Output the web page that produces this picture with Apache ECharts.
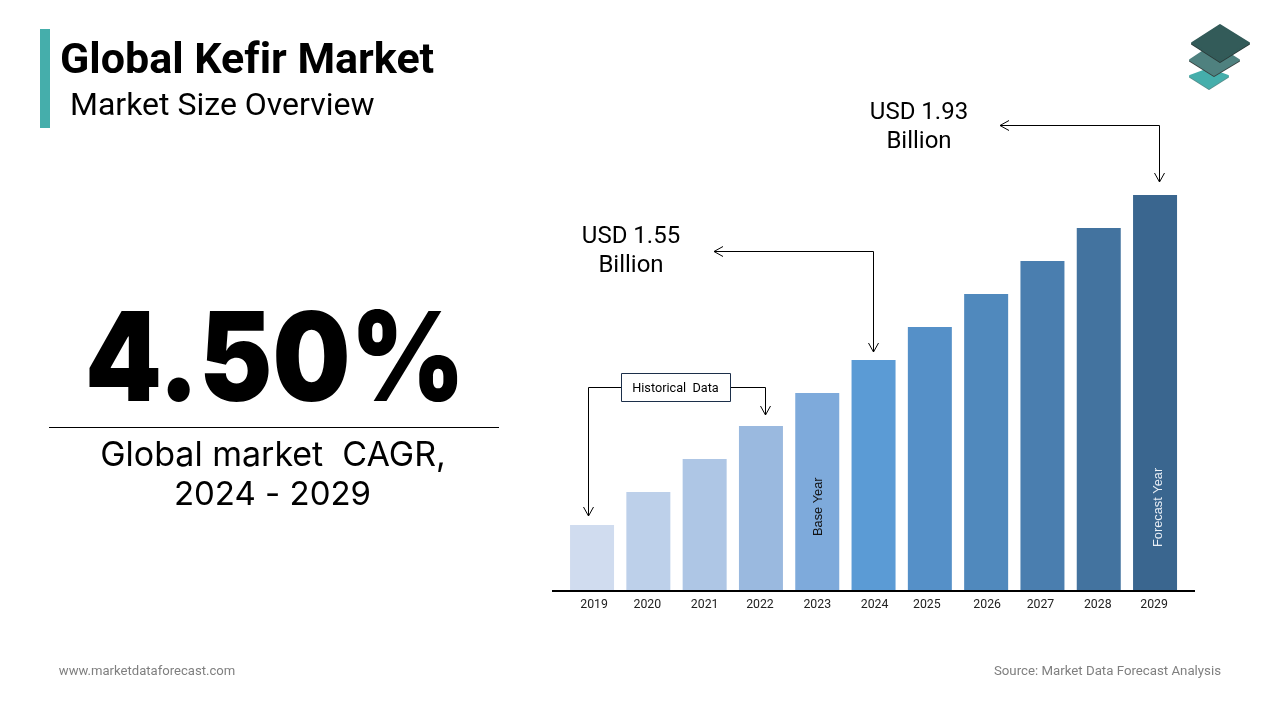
<!DOCTYPE html>
<html lang="en">
<head>
    <meta charset="UTF-8">
    <title>Global Kefir Market</title>
    <style>
        html, body { margin: 0; padding: 0; background: #fff; }
        #chart { width: 1280px; height: 720px; }
    </style>
</head>
<body>
<div id="chart"></div>
<script src="https://cdn.jsdelivr.net/npm/echarts@6/dist/echarts.min.js"></script>
<script type="text/javascript">
    // bar heights, the chart has no printed scale
    var years = ['2019', '2020', '2021', '2022', '2023', '2024', '2025', '2026', '2027', '2028', '2029'];
    var barValues = [65, 98, 131, 164, 197, 230, 263, 296, 329, 362, 395];
    var barColors = ['#d0dcef', '#bdd0ea', '#aec6e5', '#9ab9df', '#7eaadb', '#5b9bd5', '#5590c8', '#5089bd', '#4a7eaf', '#43739f', '#3a668f'];
    var barNotes = ['', '', '', '', 'Base Year', '', '', '', '', '', 'Forecast Year'];
    var noteColors = ['', '', '', '', '#111111', '', '', '', '', '', '#e8eef5'];
    var noteDistance = [0, 0, 0, 0, 54, 0, 0, 0, 0, 0, 43];
    var noteShift = [0, 0, 0, 0, 1, 0, 0, 0, 0, 0, 3];
    // tick labels sit a little off the bar centres in the original
    var tickShift = [2, -1, 0, -1, 0, 1, -3, 1, -2, -1, -1];

    var chart = echarts.init(document.getElementById('chart'));

    function txt(x, y, text, size, opts) {
        opts = opts || {};
        return {
            type: 'text',
            x: x,
            y: y,
            scaleX: opts.scaleX || 1,
            silent: true,
            style: {
                text: text,
                fontFamily: opts.font || 'Roboto',
                fontSize: size,
                fontWeight: opts.weight || 400,
                fill: opts.color || '#000',
                align: opts.align || 'center',
                verticalAlign: 'middle'
            }
        };
    }

    // elbow line with an open arrow head at the last point
    function arrowLine(points) {
        var a = points[points.length - 2];
        var b = points[points.length - 1];
        var dx = a[0] === b[0] ? 0 : (b[0] > a[0] ? 1 : -1);
        var dy = a[1] === b[1] ? 0 : (b[1] > a[1] ? 1 : -1);
        var head = [
            [b[0] - dx * 9 + dy * 5, b[1] - dy * 9 + dx * 5],
            [b[0], b[1]],
            [b[0] - dx * 9 - dy * 5, b[1] - dy * 9 - dx * 5]
        ];
        var style = { stroke: '#000', lineWidth: 1, fill: null };
        return [
            { type: 'polyline', silent: true, shape: { points: points }, style: style },
            { type: 'polyline', silent: true, shape: { points: head }, style: style }
        ];
    }

    function tile(points, color, edge) {
        var low = points.map(function (p) { return [p[0], p[1] + 1]; });
        return [
            { type: 'polygon', silent: true, shape: { points: low }, style: { fill: edge, stroke: edge, lineWidth: 2, lineJoin: 'round' } },
            { type: 'polygon', silent: true, shape: { points: points }, style: { fill: color, stroke: color, lineWidth: 2, lineJoin: 'round' } }
        ];
    }

    var shapes = [
        { type: 'rect', silent: true, shape: { x: 40, y: 29, width: 10, height: 99 }, style: { fill: '#45aeab' } },
        txt(60, 62, 'Global Kef\u200cir Market', 43, { align: 'left', weight: 700 }),
        txt(70, 107, 'Market Size Overview', 32, { align: 'left' }),
        txt(275, 364, '4.50%', 124, { font: 'Inter', weight: 900, scaleX: 0.885 }),
        { type: 'line', silent: true, shape: { x1: 49, y1: 427.5, x2: 499, y2: 427.5 }, style: { stroke: '#000', lineWidth: 1 } },
        txt(273, 456, 'Global market  CAGR,', 34, { font: 'Inter' }),
        txt(272.5, 495, '2024 - 2029', 33, { font: 'Inter' }),
        txt(919, 113, 'USD 1.93', 24),
        txt(919, 142, 'Billion', 24),
        txt(631, 237, 'USD 1.55', 24),
        txt(631, 266, 'Billion', 24),
        { type: 'rect', silent: true, shape: { x: 621.5, y: 373.5, width: 109, height: 28 }, style: { fill: '#fff', stroke: '#1c2f4a', lineWidth: 1 } },
        txt(675.5, 389, 'Historical  Data', 12.7),
        { type: 'line', silent: true, shape: { x1: 552, y1: 591, x2: 1195, y2: 591 }, style: { stroke: '#000', lineWidth: 2 } },
        txt(147, 672, 'www.marketdataforecast.com', 13.1, { color: '#7f7f7f' }),
        txt(1221, 672, 'Source: Market Data Forecast Analysis', 13.25, { color: '#7f7f7f', align: 'right' })
    ];
    shapes = shapes
        .concat(arrowLine([[1159.5, 125.5], [1000, 125.5]]))
        .concat(arrowLine([[1159.5, 125.5], [1159.5, 182]]))
        .concat(arrowLine([[873.5, 251.5], [714, 251.5]]))
        .concat(arrowLine([[873.5, 251.5], [873.5, 352]]))
        .concat(arrowLine([[621, 387.5], [588.5, 387.5], [588.5, 516]]))
        .concat(arrowLine([[731, 387.5], [765.5, 387.5], [765.5, 415]]))
        .concat(tile([[1209, 69], [1228, 76], [1209, 88], [1190, 76]], '#45aeab', '#5a8f8d'))
        .concat(tile([[1214, 44], [1239, 60], [1214, 75], [1190, 60]], '#4f817f', '#37413f'))
        .concat(tile([[1220, 25], [1249, 43], [1220, 61], [1192, 43]], '#335b59', '#2a3a38'));

    var option = {
        animation: false,
        backgroundColor: '#fff',
        grid: { left: 563.9, right: 96.8, top: 190, bottom: 130 },
        xAxis: {
            type: 'category',
            data: years.map(function (y, i) {
                // padding on one side moves a centred label by half of it
                var pad = Math.abs(tickShift[i]) * 2;
                return {
                    value: y,
                    textStyle: { padding: tickShift[i] > 0 ? [0, 0, 0, pad] : [0, pad, 0, 0] }
                };
            }),
            axisLine: { show: false },
            axisTick: { show: false },
            axisLabel: { color: '#222', fontFamily: 'Roboto', fontSize: 12.3, margin: 9, interval: 0 }
        },
        yAxis: { type: 'value', min: 0, max: 400, show: false, splitLine: { show: false } },
        series: [{
            type: 'bar',
            barWidth: 44,
            data: barValues.map(function (v, i) {
                var item = { value: v, itemStyle: { color: barColors[i] } };
                if (barNotes[i]) {
                    item.label = {
                        show: true,
                        formatter: barNotes[i],
                        position: 'insideBottom',
                        distance: noteDistance[i],
                        // the offset turns with the label, so its y moves it sideways here
                        offset: [0, noteShift[i]],
                        rotate: 90,
                        align: 'left',
                        verticalAlign: 'middle',
                        fontFamily: 'Liberation Sans',
                        fontSize: 12.8,
                        color: noteColors[i]
                    };
                }
                return item;
            })
        }],
        graphic: { elements: shapes }
    };
    chart.setOption(option);
</script>
</body>
</html>
